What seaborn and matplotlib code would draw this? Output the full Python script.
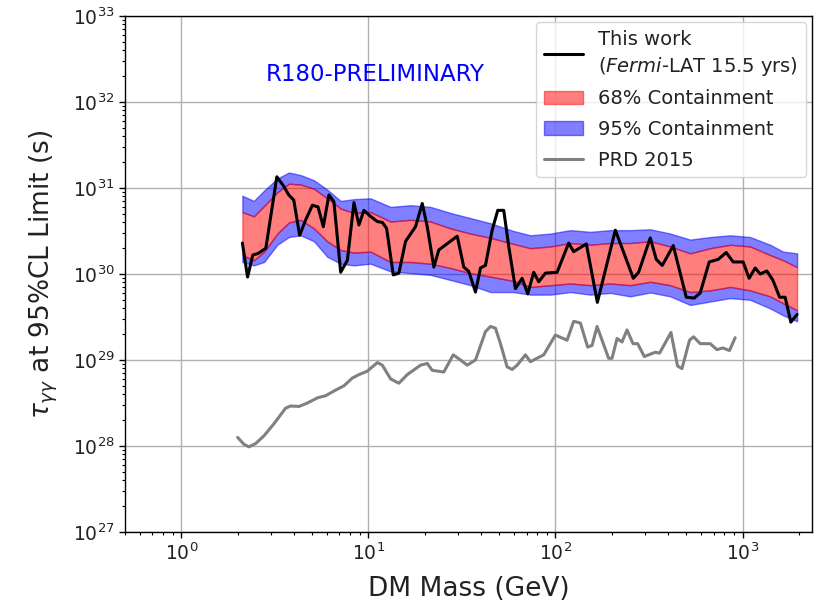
import numpy as np
import matplotlib
matplotlib.use("Agg")
import matplotlib.pyplot as plt
from matplotlib.lines import Line2D
from matplotlib.patches import Patch
import seaborn as sns

# ---------------- data ----------------
# This work: DM mass (GeV) and log10 of the 95% CL lifetime limit (s)
this_work_mass = [2.12, 2.26, 2.41, 2.58, 2.83, 3.24, 3.53, 3.75, 3.99, 4.29,
                  4.62, 5.02, 5.38, 5.74, 6.15, 6.54, 7.11, 7.72, 8.37, 8.90,
                  9.46, 10.27, 11.16, 11.87, 12.51, 13.58, 14.55, 15.80, 17.86, 19.40,
                  20.63, 22.38, 23.79, 29.84, 32.35, 34.40, 37.36, 39.72, 42.24, 45.86,
                  49.13, 52.89, 56.25, 61.07, 66.33, 71.07, 76.48, 81.32, 88.34, 102.0,
                  117.6, 125.1, 146.2, 167.4, 208.9, 260.6, 278.1, 321.1, 345.6, 372.2,
                  426.1, 500.0, 551.4, 593.6, 663.2, 740.8, 817.4, 890.8, 1007, 1084,
                  1168, 1242, 1348, 1451, 1578, 1689, 1811, 1956]
this_work_log10 = [30.36, 29.965, 30.22, 30.24, 30.30, 31.13, 31.02, 30.92, 30.86, 30.45,
                   30.63, 30.80, 30.78, 30.55, 30.92, 30.84, 30.02, 30.16, 30.83, 30.57,
                   30.74, 30.67, 30.61, 30.60, 30.53, 29.99, 30.01, 30.38, 30.55, 30.82,
                   30.55, 30.08, 30.28, 30.44, 30.08, 30.03, 29.79, 30.07, 30.10, 30.51,
                   30.74, 30.74, 30.32, 29.83, 29.95, 29.77, 30.02, 29.91, 30.01, 30.02,
                   30.36, 30.26, 30.35, 29.67, 30.51, 29.95, 30.02, 30.42, 30.17, 30.10,
                   30.33, 29.73, 29.72, 29.78, 30.14, 30.17, 30.25, 30.14, 30.14, 29.95,
                   30.07, 30.00, 30.035, 29.93, 29.73, 29.73, 29.44, 29.53]

# Containment bands (log10 of lifetime, s)
band_mass = [2.12, 2.44, 2.77, 3.26, 3.76, 4.35, 5.12, 6.03, 7.11, 8.37,
             10.27, 13.14, 16.80, 21.48, 27.48, 35.13, 44.93, 59.61, 73.45, 93.93,
             120.1, 153.6, 196.4, 251.1, 321.1, 410.6, 525.2, 671.5, 858.6, 1098,
             1404, 1647, 1956]
upper95_log10 = [30.91, 30.85, 30.97, 31.11, 31.18, 31.15, 31.09, 30.98, 30.85, 30.87,
                 30.88, 30.78, 30.80, 30.78, 30.71, 30.65, 30.59, 30.50, 30.45, 30.47,
                 30.51, 30.49, 30.51, 30.51, 30.52, 30.47, 30.40, 30.43, 30.45, 30.43,
                 30.34, 30.26, 30.24]
upper68_log10 = [30.72, 30.67, 30.79, 30.95, 31.05, 31.04, 30.99, 30.88, 30.76, 30.71,
                 30.72, 30.61, 30.63, 30.61, 30.53, 30.47, 30.42, 30.35, 30.30, 30.32,
                 30.36, 30.34, 30.36, 30.36, 30.38, 30.32, 30.24, 30.30, 30.34, 30.32,
                 30.22, 30.16, 30.08]
lower68_log10 = [30.22, 30.16, 30.26, 30.47, 30.60, 30.63, 30.53, 30.38, 30.28, 30.25,
                 30.26, 30.14, 30.14, 30.12, 30.07, 30.01, 29.97, 29.92, 29.85, 29.87,
                 29.89, 29.87, 29.89, 29.87, 29.91, 29.87, 29.79, 29.81, 29.85, 29.81,
                 29.74, 29.66, 29.58]
lower95_log10 = [30.14, 30.10, 30.14, 30.34, 30.43, 30.45, 30.38, 30.20, 30.12, 30.10,
                 30.12, 30.03, 30.01, 29.99, 29.93, 29.87, 29.79, 29.79, 29.76, 29.76,
                 29.79, 29.76, 29.78, 29.74, 29.785, 29.74, 29.64, 29.68, 29.72, 29.70,
                 29.60, 29.52, 29.45]

# PRD 2015 limit
prd_mass = [2.00, 2.16, 2.30, 2.50, 2.77, 3.13, 3.61, 3.84, 4.26, 4.72,
            5.34, 5.91, 6.68, 7.40, 8.20, 8.90, 9.86, 11.16, 11.87, 13.14,
            14.55, 16.13, 19.00, 20.63, 21.94, 25.30, 28.40, 31.07, 33.73, 37.36,
            42.24, 44.93, 47.77, 50.79, 55.14, 58.65, 62.37, 69.07, 73.45, 86.50,
            99.9, 115.3, 125.1, 135.8, 148.6, 156.9, 166.8, 192.3, 200.6, 213.3,
            226.8, 241.2, 259.6, 274.8, 298.4, 341.6, 360.1, 414.2, 449.2, 474.2,
            520.5, 547.0, 593.6, 671.5, 729.2, 784.9, 851.1, 912.9]
prd_log10 = [28.10, 28.02, 27.99, 28.03, 28.12, 28.26, 28.44, 28.465, 28.46, 28.50,
             28.56, 28.585, 28.65, 28.70, 28.79, 28.83, 28.87, 28.97, 28.94, 28.78,
             28.73, 28.83, 28.94, 28.96, 28.88, 28.86, 29.06, 29.00, 28.94, 29.00,
             29.33, 29.39, 29.37, 29.19, 28.92, 28.89, 28.94, 29.06, 28.98, 29.06,
             29.29, 29.23, 29.45, 29.43, 29.15, 29.17, 29.39, 29.02, 29.02, 29.25,
             29.21, 29.35, 29.19, 29.19, 29.04, 29.09, 29.08, 29.32, 28.93, 28.90,
             29.23, 29.27, 29.19, 29.19, 29.12, 29.14, 29.11, 29.26]

legend_labels = ["This work\n($\\mathit{Fermi}$-LAT 15.5 yrs)", "68% Containment",
                 "95% Containment", "PRD 2015"]

# ---------------- plotting ----------------
sns.set_theme(style="ticks")
plt.rcParams["font.family"] = ["DejaVu Sans"]
plt.rcParams["mathtext.fontset"] = "dejavusans"

fig = plt.figure(figsize=(8.25, 6.06), dpi=100)
ax = fig.add_axes([125 / 825, 1 - 532 / 606, (812 - 125) / 825, (532 - 16) / 606])
ax.set_xscale("log")
ax.set_yscale("log")

bm = np.array(band_mass)
u95 = 10 ** np.array(upper95_log10)
u68 = 10 ** np.array(upper68_log10)
l68 = 10 ** np.array(lower68_log10)
l95 = 10 ** np.array(lower95_log10)

blue = (0, 0, 1, 0.5)
red = (1, 0, 0, 0.5)
ax.fill_between(bm, u68, u95, facecolor=blue, edgecolor=blue, lw=1.0, zorder=2)
ax.fill_between(bm, l95, l68, facecolor=blue, edgecolor=blue, lw=1.0, zorder=2)
ax.fill_between(bm, l68, u68, facecolor=red, edgecolor=red, lw=1.0, zorder=2)

sns.lineplot(x=np.array(this_work_mass), y=10 ** np.array(this_work_log10), ax=ax,
             color="black", lw=2.2, sort=False, estimator=None, zorder=4)
sns.lineplot(x=np.array(prd_mass), y=10 ** np.array(prd_log10), ax=ax,
             color="#808080", lw=2.2, sort=False, estimator=None, zorder=3)

ax.set_xlim(0.5, 2350)
ax.set_ylim(1e27, 1e33)
ax.grid(True, which="major", color="#b0b0b0", lw=1.0, zorder=0)
ax.set_axisbelow(True)
for s in ax.spines.values():
    s.set_color("black")
    s.set_linewidth(1.0)
ax.tick_params(which="both", direction="out", colors="black", labelsize=13.5)
ax.tick_params(which="major", length=4, width=1)
ax.tick_params(which="minor", length=2.5, width=0.8)
for lab in ax.get_xticklabels() + ax.get_yticklabels():
    lab.set_color("#222222")

ax.set_xlabel("DM Mass (GeV)", fontsize=19, color="#222222", labelpad=9)
ax.set_ylabel(r"$\tau_{\gamma\gamma}$ at 95%CL Limit (s)", fontsize=19, color="#222222",
              labelpad=9)

ax.text(0.364, 0.886, "R180-PRELIMINARY", transform=ax.transAxes, color="blue",
        fontsize=16.5, ha="center", va="center")

handles = [Line2D([], [], color="black", lw=2.2),
           Patch(facecolor=red, edgecolor=red),
           Patch(facecolor=blue, edgecolor=blue),
           Line2D([], [], color="#808080", lw=2.2)]
leg = ax.legend(handles, legend_labels, loc="upper right", fontsize=14,
                frameon=True, fancybox=True, framealpha=0.8, borderaxespad=0.3,
                labelspacing=0.6)
leg.get_frame().set_edgecolor("#cccccc")
for t in leg.get_texts():
    t.set_color("#222222")
    t.set_linespacing(1.35)

fig.savefig("out.png", dpi=100)
